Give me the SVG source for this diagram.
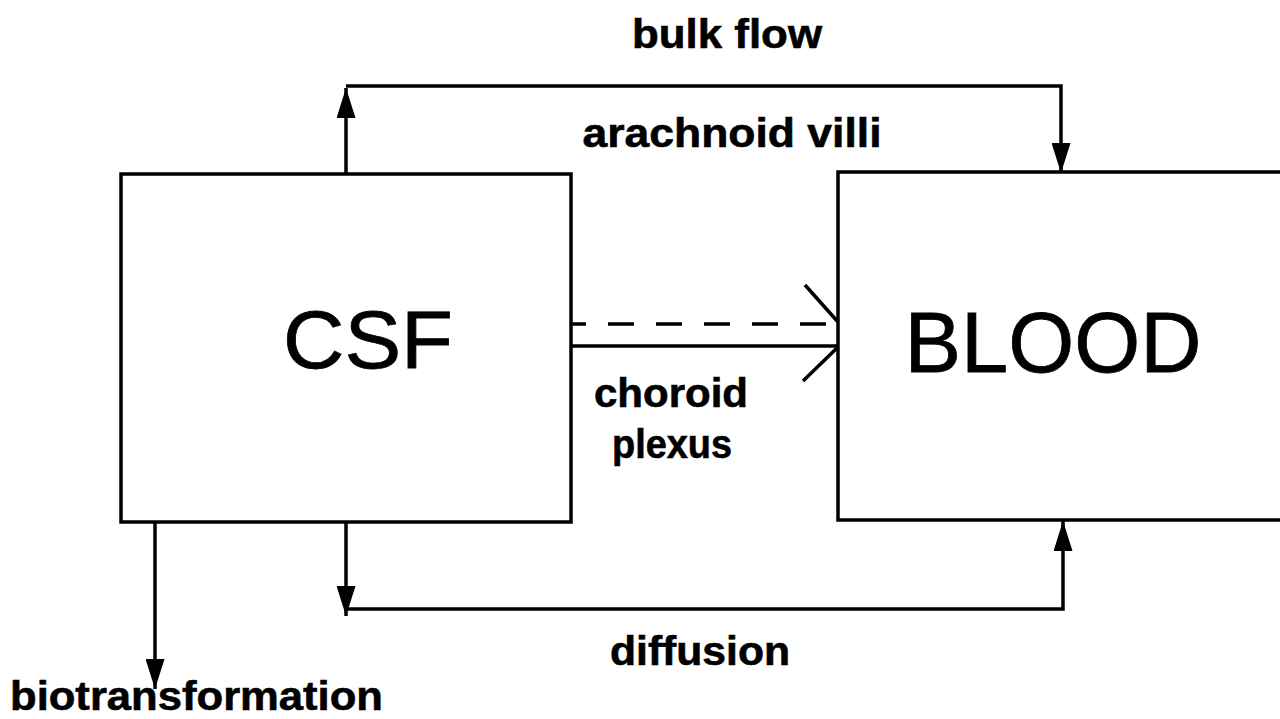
<svg xmlns="http://www.w3.org/2000/svg" width="1280" height="719" viewBox="0 0 1280 719">
<defs>
<style>
.box{fill:none;stroke:#000;stroke-width:3.5}
.ln{fill:none;stroke:#000;stroke-width:3.5}
.lbl{font-family:"Liberation Sans",Arial,sans-serif;font-weight:bold;font-size:40px;fill:#000;stroke:#000;stroke-width:0.6}
.big{font-family:"Liberation Sans",Arial,sans-serif;fill:#000;stroke:#000;stroke-width:0.8}
</style>
<marker id="ah" markerUnits="userSpaceOnUse" markerWidth="30" markerHeight="19" refX="30" refY="9.5" orient="auto" viewBox="0 0 30 19">
<path d="M0,0 L30,9.5 L0,19 Z" fill="#000"/>
</marker>
</defs>
<rect width="1280" height="719" fill="#fff"/>
<g id="csf">
<rect class="box" x="121" y="174" width="450" height="348"/>
<text class="big" x="368" y="368" font-size="82" text-anchor="middle" textLength="170" lengthAdjust="spacingAndGlyphs">CSF</text>
</g>
<g id="blood">
<rect class="box" x="838" y="172" width="460" height="348"/>
<text class="big" x="1053" y="372" font-size="86" text-anchor="middle" textLength="297" lengthAdjust="spacingAndGlyphs">BLOOD</text>
</g>
<g id="connectors">
<path class="ln" d="M346,174 V88" marker-end="url(#ah)"/>
<path class="ln" d="M346,86 H1061 V173" marker-end="url(#ah)"/>
<path class="ln" d="M346,522 V616" marker-end="url(#ah)"/>
<path class="ln" d="M346,609 H1063 V521" marker-end="url(#ah)"/>
<path class="ln" d="M155,522 V689" marker-end="url(#ah)"/>
<path class="ln" d="M571,324 H838" stroke-dasharray="26 22" stroke-dashoffset="11"/>
<path class="ln" d="M571,346 H838"/>
<path class="ln" d="M805,285 L838,322 M838,347 L803,381"/>
</g>
<g id="labels">
<text class="lbl" x="727" y="48" text-anchor="middle" textLength="190" lengthAdjust="spacingAndGlyphs">bulk flow</text>
<text class="lbl" x="732" y="147" text-anchor="middle" textLength="299" lengthAdjust="spacingAndGlyphs">arachnoid villi</text>
<text class="lbl" x="671" y="407" text-anchor="middle" textLength="154" lengthAdjust="spacingAndGlyphs">choroid</text>
<text class="lbl" x="672" y="458" text-anchor="middle" textLength="120" lengthAdjust="spacingAndGlyphs">plexus</text>
<text class="lbl" x="700" y="665" text-anchor="middle" textLength="180" lengthAdjust="spacingAndGlyphs">diffusion</text>
<text class="lbl" x="10" y="710" textLength="373" lengthAdjust="spacingAndGlyphs">biotransformation</text>
</g>
</svg>
